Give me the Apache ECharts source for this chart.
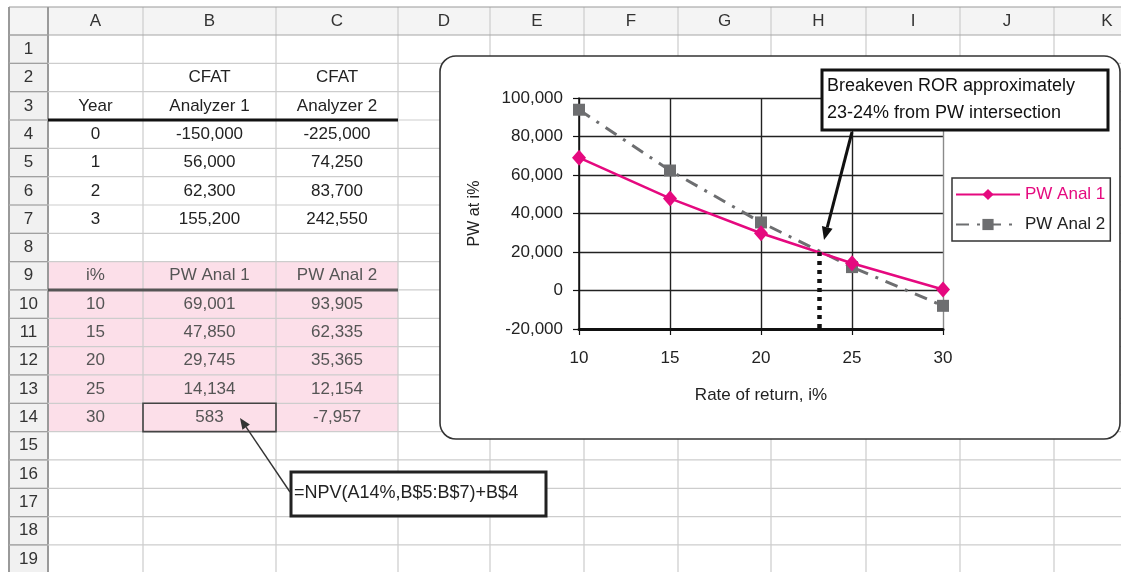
<!DOCTYPE html>
<html><head><meta charset="utf-8">
<script src="https://cdn.jsdelivr.net/npm/echarts@6/dist/echarts.min.js"></script>
<style>html,body{margin:0;padding:0;background:#fff}#c{width:1121px;height:572px}</style>
</head><body><div id="c"></div>
<script>
// ---------- data ----------
const columnLetters = ['A','B','C','D','E','F','G','H','I','J','K'];
const years = [0, 1, 2, 3];
const cfatAnalyzer1 = [-150000, 56000, 62300, 155200];
const cfatAnalyzer2 = [-225000, 74250, 83700, 242550];
const rates = [10, 15, 20, 25, 30];
const pwAnal1 = [69001, 47850, 29745, 14134, 583];
const pwAnal2 = [93905, 62335, 35365, 12154, -7957];
const seriesNames = ['PW Anal 1', 'PW Anal 2'];
const xRange = [10, 30, 5];
const yRange = [-20000, 100000, 20000];
const breakevenROR = 23.2;
const breakevenPW = 20000;
const noteLines = ['Breakeven ROR approximately', '23-24% from PW intersection'];
const formulaText = '=NPV(A14%,B$5:B$7)+B$4';
const xAxisName = 'Rate of return, i%';
const yAxisName = 'PW at i%';

// ---------- layout ----------
const FONT = '"Liberation Sans", Arial, sans-serif';
const MAG = '#e5097f', GRAY = '#6d6e70';
const colEdges = [9, 48, 143, 276, 398, 490, 584, 678, 771, 866, 960, 1054, 1160];
const headTop = 7, row1Top = 35, rowH = 28.33, nRows = 19;
const rowTop = r => row1Top + (r - 1) * rowH;
const rowMid = r => rowTop(r) + rowH / 2;
const colMid = c => (colEdges[c + 1] + colEdges[c + 2]) / 2; // c: 0 = A
const fmt = v => v.toLocaleString('en-US');

const g = [];
// header backgrounds
g.push({type:'rect', z:-30, shape:{x:colEdges[0], y:headTop, width:1160, height:row1Top-headTop}, style:{fill:'#f4f4f4'}});
g.push({type:'rect', z:-30, shape:{x:colEdges[0], y:row1Top, width:colEdges[1]-colEdges[0], height:nRows*rowH}, style:{fill:'#f1f1f1'}});
// pink block rows 9-14, cols A-C
g.push({type:'rect', z:-30, shape:{x:colEdges[1], y:rowTop(9), width:colEdges[4]-colEdges[1], height:6*rowH}, style:{fill:'#fcdfe9'}});
// grid lines
for (let i = 0; i < colEdges.length; i++) {
  g.push({type:'line', z:-25, shape:{x1:colEdges[i], y1:headTop, x2:colEdges[i], y2:572}, style:{stroke: i<=1 ? '#9a9a9a' : '#cbcbcb', lineWidth: i<=1 ? 2 : 1.2}});
}
g.push({type:'line', z:-25, shape:{x1:colEdges[0], y1:headTop, x2:1121, y2:headTop}, style:{stroke:'#9a9a9a', lineWidth:1.2}});
for (let r = 1; r <= nRows + 1; r++) {
  const y = rowTop(r);
  g.push({type:'line', z:-25, shape:{x1:colEdges[0], y1:y, x2:1121, y2:y}, style:{stroke: r===1 ? '#a5a5a5' : '#cdcdcd', lineWidth:1.2}});
  g.push({type:'line', z:-24, shape:{x1:colEdges[0], y1:y, x2:colEdges[1], y2:y}, style:{stroke:'#a0a0a0', lineWidth:1.2}});
}
// thick rules
g.push({type:'line', z:-20, shape:{x1:colEdges[1], y1:rowTop(4), x2:colEdges[4], y2:rowTop(4)}, style:{stroke:'#111', lineWidth:3}});
g.push({type:'line', z:-20, shape:{x1:colEdges[1], y1:rowTop(10), x2:colEdges[4], y2:rowTop(10)}, style:{stroke:'#555', lineWidth:3}});
// B14 box
g.push({type:'rect', z:-20, shape:{x:colEdges[2], y:rowTop(14), width:colEdges[3]-colEdges[2], height:rowH}, style:{fill:'none', stroke:'#444', lineWidth:1.6}});

function txt(x, y, text, opt) {
  opt = opt || {};
  return {type:'text', z: opt.z !== undefined ? opt.z : -15, style:{text:text, x:x, y:y, font:(opt.size||17)+'px '+FONT, fill:opt.color||'#222', textAlign:opt.align||'center', textVerticalAlign:'middle'}};
}
// column letters
columnLetters.forEach((L, i) => g.push(txt(colMid(i), (headTop+row1Top)/2, L, {color:'#333'})));
// row numbers
for (let r = 1; r <= nRows; r++) g.push(txt((colEdges[0]+colEdges[1])/2, rowMid(r), String(r), {color:'#333'}));
// cell texts
g.push(txt(colMid(1), rowMid(2), 'CFAT'));
g.push(txt(colMid(2), rowMid(2), 'CFAT'));
g.push(txt(colMid(0), rowMid(3), 'Year'));
g.push(txt(colMid(1), rowMid(3), 'Analyzer 1'));
g.push(txt(colMid(2), rowMid(3), 'Analyzer 2'));
years.forEach((yv, i) => {
  g.push(txt(colMid(0), rowMid(4+i), String(yv)));
  g.push(txt(colMid(1), rowMid(4+i), fmt(cfatAnalyzer1[i])));
  g.push(txt(colMid(2), rowMid(4+i), fmt(cfatAnalyzer2[i])));
});
const PT = '#555';
g.push(txt(colMid(0), rowMid(9), 'i%', {color:PT}));
g.push(txt(colMid(1), rowMid(9), seriesNames[0], {color:PT}));
g.push(txt(colMid(2), rowMid(9), seriesNames[1], {color:PT}));
rates.forEach((rv, i) => {
  g.push(txt(colMid(0), rowMid(10+i), String(rv), {color:PT}));
  g.push(txt(colMid(1), rowMid(10+i), fmt(pwAnal1[i]), {color:PT}));
  g.push(txt(colMid(2), rowMid(10+i), fmt(pwAnal2[i]), {color:PT}));
});

// chart frame
g.push({type:'rect', z:-10, shape:{x:440, y:56, width:680, height:383, r:16}, style:{fill:'#fff', stroke:'#333', lineWidth:1.6}});

function arrow(x1, y1, x2, y2, len, half, color, w) {
  const dx = x2-x1, dy = y2-y1, L = Math.hypot(dx, dy), ux = dx/L, uy = dy/L;
  const bx = x2-ux*len, by = y2-uy*len, px = -uy*half, py = ux*half;
  return [
    {type:'line', z:100, shape:{x1:x1, y1:y1, x2:bx, y2:by}, style:{stroke:color, lineWidth:w}},
    {type:'polygon', z:100, shape:{points:[[x2,y2],[bx+px,by+py],[bx-px,by-py]]}, style:{fill:color}}
  ];
}
// breakeven note
g.push({type:'rect', z:100, shape:{x:822, y:70, width:286, height:60}, style:{fill:'#fff', stroke:'#111', lineWidth:3}});
g.push(txt(827, 86, noteLines[0], {align:'left', size:18, z:101, color:'#111'}));
g.push(txt(827, 113, noteLines[1], {align:'left', size:18, z:101, color:'#111'}));
arrow(852, 132, 824, 240, 13, 5.5, '#111', 3).forEach(e => g.push(e));
// formula note
g.push({type:'rect', z:100, shape:{x:291, y:472, width:255, height:44}, style:{fill:'#fff', stroke:'#222', lineWidth:3}});
g.push(txt(294, 493, formulaText, {align:'left', size:18, z:101, color:'#222'}));
arrow(290, 492, 240, 418, 11, 4.5, '#333', 1.4).forEach(e => g.push(e));

const chart = echarts.init(document.getElementById('c'));
chart.setOption({
  backgroundColor:'#fff',
  animation:false,
  textStyle:{fontFamily:FONT},
  grid:{left:579, top:98, width:364, height:231, containLabel:false},
  legend:{
    orient:'vertical', left:952, top:178,
    backgroundColor:'#fff', borderColor:'#333', borderWidth:1.5,
    padding:[8, 5, 8, 3], itemWidth:64, itemHeight:14, itemGap:13,
    textStyle:{fontSize:17, fontFamily:FONT},
    data:[{name:seriesNames[0], textStyle:{color:MAG}}, {name:seriesNames[1], textStyle:{color:'#222'}}]
  },
  xAxis:{
    type:'value', min:xRange[0], max:xRange[1], interval:xRange[2],
    name:xAxisName, nameLocation:'middle', nameGap:58,
    nameTextStyle:{fontSize:17, color:'#222'},
    axisLine:{onZero:false, lineStyle:{color:'#111', width:3}},
    axisTick:{show:true, length:6, lineStyle:{color:'#111', width:1.2}},
    axisLabel:{fontSize:17, color:'#222', margin:21},
    splitLine:{show:true, lineStyle:{color:['#222','#222','#222','#222','#8a8a8a'], width:1.4}}
  },
  yAxis:{
    type:'value', min:yRange[0], max:yRange[1], interval:yRange[2],
    name:yAxisName, nameLocation:'middle', nameGap:96, nameRotate:90,
    nameTextStyle:{fontSize:16, color:'#222'},
    axisLine:{show:true, lineStyle:{color:'#111', width:1.5}},
    axisTick:{show:true, length:6, lineStyle:{color:'#111', width:1.2}},
    axisLabel:{fontSize:17, color:'#222', margin:16, formatter:v => fmt(v)},
    splitLine:{show:true, lineStyle:{color:'#222', width:1.4}}
  },
  series:[
    {
      name:seriesNames[0], type:'line', z:4,
      data:rates.map((r, i) => [r, pwAnal1[i]]),
      symbol:'diamond', symbolSize:[14, 16],
      itemStyle:{color:MAG}, lineStyle:{color:MAG, width:2.6},
      markLine:{
        silent:true, symbol:['none','none'], label:{show:false},
        lineStyle:{color:'#111', width:4.5, type:[4, 5]},
        data:[[{coord:[breakevenROR, breakevenPW]}, {coord:[breakevenROR, yRange[0]]}]]
      }
    },
    {
      name:seriesNames[1], type:'line', z:3,
      data:rates.map((r, i) => [r, pwAnal2[i]]),
      symbol:'rect', symbolSize:12,
      itemStyle:{color:GRAY}, lineStyle:{color:GRAY, width:3, type:[13, 8, 3, 8]}
    }
  ],
  graphic:{elements:g}
});
</script>
</body></html>
